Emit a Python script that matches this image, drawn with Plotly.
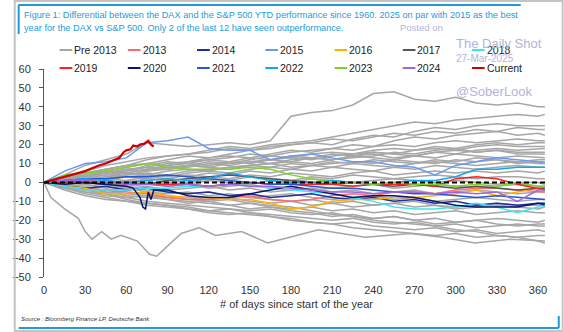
import plotly.graph_objects as go

# ---------------- data ----------------
DAYS = [0, 15, 30, 45, 60, 75, 90, 105, 120, 135, 150, 165, 180, 195, 210,
        225, 240, 255, 270, 285, 300, 315, 330, 345, 360, 365]
X_TICKS = [0, 30, 60, 90, 120, 150, 180, 210, 240, 270, 300, 330, 360]

PRE2013 = [
    [0, 4, 9, 12, 15, 21, 20, 19, 20, 21, 20, 22, 35, 37, 38, 41, 47, 48, 44, 43, 45, 42, 41, 42, 40, 40],
    [0, 2, 5, 7, 9, 12, 14, 15, 17, 19, 18, 20, 21, 22, 24, 26, 28, 30, 32, 31, 33, 34, 35, 36, 35, 36],
    [0, 3, 4, 6, 8, 10, 12, 14, 13, 15, 17, 18, 20, 21, 20, 23, 25, 24, 27, 29, 28, 30, 31, 30, 30, 30],
    [0, 1, 3, 5, 7, 8, 10, 11, 13, 14, 13, 15, 17, 16, 18, 20, 19, 22, 24, 23, 25, 26, 27, 25, 26, 25],
    [0, 2, 4, 5, 6, 9, 11, 10, 12, 13, 15, 14, 16, 17, 18, 17, 19, 20, 19, 21, 22, 21, 22, 23, 22, 22],
    [0, 1, 2, 4, 5, 7, 8, 9, 8, 10, 11, 12, 13, 12, 14, 15, 16, 15, 17, 18, 17, 19, 20, 19, 19, 19],
    [0, 3, 5, 7, 9, 10, 9, 11, 12, 11, 13, 12, 14, 13, 15, 14, 16, 15, 14, 16, 17, 16, 17, 16, 16, 16],
    [0, 1, 3, 2, 4, 6, 7, 8, 10, 9, 11, 10, 12, 13, 12, 14, 13, 12, 14, 13, 15, 14, 13, 14, 13, 13],
    [0, 2, 1, 3, 5, 4, 6, 7, 6, 8, 9, 8, 10, 9, 11, 10, 12, 11, 10, 12, 11, 13, 12, 11, 12, 12],
    [0, -1, 1, 2, 3, 4, 3, 5, 6, 5, 7, 8, 7, 9, 8, 10, 9, 8, 10, 11, 10, 9, 10, 11, 10, 10],
    [0, 1, 2, 1, 3, 2, 4, 3, 5, 4, 6, 5, 7, 6, 8, 7, 6, 8, 7, 9, 8, 7, 8, 9, 8, 8],
    [0, 0, 1, 2, 1, 3, 2, 4, 3, 2, 4, 3, 5, 4, 3, 5, 6, 4, 5, 6, 5, 6, 5, 6, 5, 6],
    [0, -1, 0, 1, 0, 2, 1, 0, 2, 1, 3, 2, 1, 3, 2, 4, 3, 2, 3, 4, 3, 2, 3, 3, 2, 2],
    [0, 1, -1, 0, -2, -1, 0, -1, 1, 0, -1, 1, 0, 2, 1, 0, 1, 2, 1, 0, 1, 0, -1, 0, 0, -1],
    [0, -1, -2, -1, -3, -2, -4, -3, -2, -4, -3, -5, -4, -3, -5, -4, -6, -5, -4, -6, -5, -4, -5, -6, -5, -5],
    [0, -2, -3, -4, -3, -5, -6, -5, -7, -6, -8, -7, -6, -8, -9, -8, -7, -9, -8, -10, -9, -8, -9, -10, -9, -9],
    [0, -1, -3, -5, -6, -5, -7, -8, -9, -8, -10, -11, -10, -12, -11, -13, -12, -11, -13, -12, -14, -13, -12, -13, -14, -13],
    [0, -2, -4, -5, -7, -8, -9, -10, -11, -12, -11, -13, -14, -13, -15, -14, -16, -15, -17, -16, -15, -17, -16, -15, -16, -16],
    [0, -3, -5, -7, -8, -10, -11, -12, -13, -14, -15, -14, -16, -17, -16, -18, -19, -18, -20, -19, -21, -20, -19, -20, -21, -20],
    [0, -2, -5, -6, -9, -11, -12, -13, -15, -14, -16, -17, -18, -19, -20, -19, -21, -22, -21, -23, -22, -24, -23, -22, -23, -23],
    [0, -4, -7, -9, -10, -12, -13, -14, -16, -17, -16, -18, -20, -21, -22, -21, -23, -24, -25, -24, -26, -25, -27, -26, -25, -26],
    [0, -3, -6, -8, -10, -11, -12, -14, -15, -16, -17, -18, -19, -21, -22, -24, -25, -26, -27, -28, -27, -29, -28, -29, -28, -28],
    [0, -1, -3, -4, -6, -7, -8, -9, -10, -9, -11, -12, -13, -15, -17, -18, -20, -21, -22, -23, -25, -26, -28, -29, -31, -32],
    [0, 2, 3, 5, 7, 6, 8, 9, 11, 10, 12, 14, 13, 15, 16, 15, 17, 18, 17, 19, 18, 20, 21, 20, 21, 21],
    [0, 1, 4, 6, 5, 7, 9, 10, 9, 11, 10, 12, 11, 13, 12, 14, 15, 13, 14, 16, 15, 17, 18, 17, 18, 18],
    [0, -1, 1, 3, 4, 5, 4, 6, 7, 8, 9, 10, 11, 10, 12, 13, 14, 16, 15, 17, 18, 16, 17, 15, 15, 15],
    [0, 2, 3, 4, 6, 8, 7, 9, 8, 7, 9, 10, 8, 9, 10, 11, 10, 12, 11, 10, 12, 11, 12, 10, 11, 11],
    [0, -2, -1, -3, -2, -4, -5, -6, -5, -7, -8, -9, -10, -9, -11, -10, -12, -11, -10, -12, -13, -12, -11, -12, -12, -12],
    [0, 1, 0, -1, 1, 0, -2, -1, -3, -2, -1, -3, -2, -4, -3, -2, -1, -3, -2, -1, -2, -3, -2, -1, -2, -2],
    [0, 3, 6, 9, 11, 13, 14, 15, 16, 18, 17, 19, 20, 21, 23, 22, 24, 26, 25, 27, 26, 28, 27, 29, 28, 28],
    [0, -3, -4, -6, -8, -7, -9, -11, -10, -12, -14, -13, -15, -16, -18, -17, -19, -18, -20, -22, -21, -20, -22, -23, -22, -22],
]

# worst pre-2013 year (own day grid)
LOW_DAYS = [0, 5, 15, 25, 30, 35, 42, 49, 56, 68, 77, 82, 88, 100, 113, 125, 144,
            163, 184, 200, 234, 267, 290, 314, 340, 365]
LOW_VALS = [0, -8, -14, -19, -26, -30, -26, -30, -28, -31, -38, -39, -35, -27, -24,
            -28, -26, -32, -28, -25, -29, -27, -29, -32, -30, -31]

Y2013 = [0, -2, -3, -4, -5, -6, -8, -9, -9, -8, -7, -9, -10, -9, -7, -6, -7, -5, -5, -6, -4, -3, -3, -4, -5, -5]
Y2014 = [0, -2, -3, -2, -4, -3, -5, -6, -5, -7, -6, -8, -7, -6, -8, -9, -8, -10, -9, -11, -10, -12, -11, -12, -11, -12]
Y2015 = [0, 6, 10, 11, 13, 21, 22, 24, 18, 17, 17, 12, 14, 15, 13, 11, 11, 9, 8, 4, 9, 11, 13, 12, 11, 10]
Y2016 = [0, -2, -3, -6, -6, -5, -7, -8, -8, -9, -9, -11, -14, -13, -10, -9, -9, -8, -8, -7, -6, -4, -7, -5, -3, -3]
Y2017 = [0, 1, 0, -1, 0, -1, 1, 2, 3, 4, 3, 2, 1, 0, -1, 0, -1, -2, -1, -2, -3, -2, -3, -4, -3, -3]
Y2018 = [0, -2, -4, -4, -4, -3, -3, -2, -2, -1, -2, -3, -4, -5, -6, -8, -10, -13, -14, -14, -13, -11, -13, -16, -13, -13]
Y2019 = [0, 0, 1, 0, -1, -1, -1, -1, -2, -1, 0, -1, -1, -1, -1, -2, -1, -1, -1, -2, 2, 3, 2, -1, -3, -4]
DAYS_2020 = [0, 15, 30, 45, 60, 65, 70, 72, 74, 76, 78, 80, 90, 105, 120, 135, 150,
             165, 180, 195, 210, 225, 240, 255, 270, 285, 300, 315, 330, 345, 360, 365]
Y2020 = [0, -1, 0, -1, -2, -3, -8, -13, -14, -5, -9, -4, -4, -7, -8, -8, -6,
         -4, -2, -4, -6, -8, -7, -7, -8, -10, -12, -13, -13, -13, -11, -11]
Y2021 = [0, 1, 2, 2, 3, 3, 4, 3, 2, 1, 0, -1, -1, -2, -3, -3, -4, -5, -6, -6, -7, -8, -7, -8, -9, -9]
Y2022 = [0, 1, 2, 1, 0, 1, 2, 1, 2, 5, 3, 1, 0, 0, 1, 0, -1, 0, 1, 1, 3, 7, 7, 8, 8, 8]
Y2023 = [0, 4, 5, 6, 8, 10, 8, 7, 7, 7, 8, 7, 4, 2, 0, 0, -1, 0, -1, -1, -2, -1, -2, 0, -2, -2]
Y2024 = [0, 1, 1, 0, -1, -1, -2, -1, -2, -1, -2, -2, -3, -4, -5, -5, -6, -5, -5, -6, -5, -6, -5, -10, -4, -4]

CUR_DAYS = [0, 5, 10, 15, 20, 25, 30, 35, 40, 45, 50, 55, 58, 60, 63, 65, 68, 70, 73, 76, 78, 80]
CUR_VALS = [0, 1, 2, 3, 4, 5, 6, 7.5, 9, 10, 11.5, 13, 16, 17, 17.5, 19.5, 19, 20, 20.5, 22, 20, 19]

LEGEND_NAMES = ["Pre 2013", "2013", "2014", "2015", "2016", "2017", "2018",
                "2019", "2020", "2021", "2022", "2023", "2024", "Current"]
LEGEND_COLORS = ["#a6a6a6", "#ff6b6b", "#1c2e9c", "#6a9aee", "#ffb000", "#555555", "#40e4f0",
                 "#ff1e1e", "#0a1468", "#2456d6", "#12a6ee", "#7ed321", "#a066e0", "#d00000"]

TITLE_1 = "Figure 1: Differential between the DAX and the S&P 500 YTD performance since 1960. 2025 on par with 2015 as the best"
TITLE_2 = "year for the DAX vs S&P 500. Only 2 of the last 12 have seen outperformance."
SOURCE = "Source : Bloomberg Finance LP, Deutsche Bank"

# ---------------- figure ----------------
W, H = 564, 332
ML, MR, MT, MB = 31, 15, 69, 55
PW, PH = W - ML - MR, H - MT - MB


def px(x):
    return (x - ML) / PW


def py(y):
    return (H - MB - y) / PH


FONT = "Liberation Sans, Arial, sans-serif"
GRAY = LEGEND_COLORS[0]

fig = go.Figure()

for vals in PRE2013:
    fig.add_trace(go.Scatter(x=DAYS, y=vals, mode="lines",
                             line=dict(color=GRAY, width=1.5), hoverinfo="skip"))
fig.add_trace(go.Scatter(x=LOW_DAYS, y=LOW_VALS, mode="lines",
                         line=dict(color=GRAY, width=1.5), hoverinfo="skip"))

year_series = [
    (DAYS, Y2013, LEGEND_COLORS[1]),
    (DAYS, Y2014, LEGEND_COLORS[2]),
    (DAYS, Y2016, LEGEND_COLORS[4]),
    (DAYS, Y2017, LEGEND_COLORS[5]),
    (DAYS, Y2018, LEGEND_COLORS[6]),
    (DAYS, Y2019, LEGEND_COLORS[7]),
    (DAYS_2020, Y2020, LEGEND_COLORS[8]),
    (DAYS, Y2021, LEGEND_COLORS[9]),
    (DAYS, Y2022, LEGEND_COLORS[10]),
    (DAYS, Y2023, LEGEND_COLORS[11]),
    (DAYS, Y2024, LEGEND_COLORS[12]),
    (DAYS, Y2015, LEGEND_COLORS[3]),
]
for xs, ys, col in year_series:
    fig.add_trace(go.Scatter(x=xs, y=ys, mode="lines",
                             line=dict(color=col, width=1.5), hoverinfo="skip"))

fig.add_trace(go.Scatter(x=CUR_DAYS, y=CUR_VALS, mode="lines",
                         line=dict(color=LEGEND_COLORS[13], width=2.2), hoverinfo="skip"))

shapes = []
annotations = []

# zero reference line
shapes.append(dict(type="line", xref="x", yref="y", x0=0, x1=366, y0=0, y1=0,
                   line=dict(color="black", width=2, dash="5px,3px"), layer="above"))

# outer frame
shapes.append(dict(type="rect", xref="paper", yref="paper",
                   x0=px(1), x1=px(563), y0=py(1), y1=py(331),
                   line=dict(color="#c4c4c4", width=2)))
BLUE = "#1e9bd7"
for (x0, y0, x1, y1) in [(5, 5, 520, 5), (5, 5, 5, 34), (5, 328, 559, 328), (559, 316, 559, 328)]:
    shapes.append(dict(type="line", xref="paper", yref="paper",
                       x0=px(x0), y0=py(y0), x1=px(x1), y1=py(y1),
                       line=dict(color=BLUE, width=2)))

# title
for txt, yy in [(TITLE_1, 15), (TITLE_2, 28)]:
    annotations.append(dict(text=txt, xref="paper", yref="paper", x=px(8), y=py(yy),
                            xanchor="left", yanchor="middle", showarrow=False,
                            font=dict(family=FONT, size=9.2, color=BLUE)))

# custom legend
cols = [47, 117, 188, 258, 329, 399, 470]
rows = [50, 68]
for i, (name, col) in enumerate(zip(LEGEND_NAMES, LEGEND_COLORS)):
    cx = cols[i % 7]
    ry = rows[i // 7]
    shapes.append(dict(type="line", xref="paper", yref="paper",
                       x0=px(cx), x1=px(cx + 13), y0=py(ry), y1=py(ry),
                       line=dict(color=col, width=2)))
    annotations.append(dict(text=name, xref="paper", yref="paper", x=px(cx + 13), y=py(ry),
                            xanchor="left", yanchor="middle", showarrow=False,
                            font=dict(family=FONT, size=10.5, color="#222222")))

# source
annotations.append(dict(text=SOURCE, xref="paper", yref="paper", x=px(5), y=py(319),
                        xanchor="left", yanchor="middle", showarrow=False,
                        font=dict(family=FONT, size=6, color="#333333", style="italic")))

# watermark
WM = "#b3b3d9"
for txt, x, y, size, anchor in [("Posted on", 418, 27, 9.5, "center"),
                                ("The Daily Shot", 452, 43, 13, "left"),
                                ("27-Mar-2025", 452, 59, 10, "left"),
                                ("@SoberLook", 452, 91, 13, "left")]:
    annotations.append(dict(text=txt, xref="paper", yref="paper", x=px(x), y=py(y),
                            xanchor=anchor, yanchor="middle", showarrow=False,
                            font=dict(family=FONT, size=size, color=WM)))

fig.update_layout(
    width=W, height=H,
    margin=dict(l=ML, r=MR, t=MT, b=MB, pad=0),
    paper_bgcolor="white", plot_bgcolor="white",
    showlegend=False,
    font=dict(family=FONT, size=11, color="#333333"),
    shapes=shapes, annotations=annotations,
    hovermode=False,
    xaxis=dict(range=[0, 368], tickvals=X_TICKS, showline=False, ticks="",
               showgrid=False, zeroline=False, ticklabelstandoff=5,
               tickfont=dict(family=FONT, size=11, color="#333333"),
               title=dict(text="# of days since start of the year", standoff=5,
                          font=dict(family=FONT, size=11, color="#333333"))),
    yaxis=dict(range=[-50, 60], dtick=10, showline=True, linecolor="#555555", linewidth=1,
               ticks="outside", ticklen=4, tickcolor="#555555", showgrid=False,
               ticklabelstandoff=6,
               zeroline=False, tickfont=dict(family=FONT, size=11, color="#333333")),
)

fig.write_html("out.html", config={"displayModeBar": False})
